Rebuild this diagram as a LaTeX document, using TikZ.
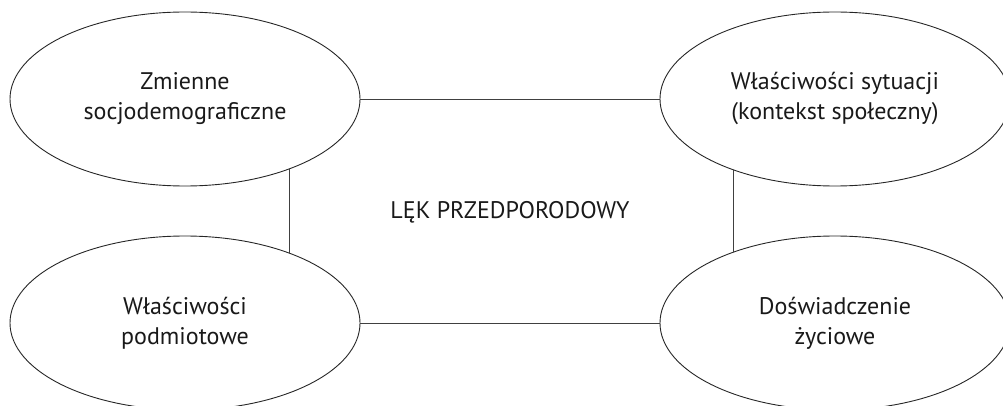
\documentclass[tikz,border=0pt]{standalone}
\usepackage{fontspec}
\setmainfont{PT Sans}
\usetikzlibrary{shapes.geometric}
\tikzset{
  oval/.style={ellipse, draw=black!85, line width=0.9pt, minimum width=350pt, minimum height=174pt, inner sep=0pt, align=center, font=\fontsize{24}{30}\selectfont, text=black!90},
  link/.style={draw=black!75, line width=0.9pt}
}
\begin{document}
\begin{tikzpicture}[x=1pt,y=-1pt]
\useasboundingbox (0,0) rectangle (1003,406);
\clip (0,0) rectangle (1003,406);
\node[oval] (tl) at (185,99) {Zmienne\\socjodemograficzne};
\node[oval] (tr) at (835,99) {Właściwości sytuacji\\(kontekst społeczny)};
\node[oval] (bl) at (185,323) {Właściwości\\podmiotowe};
\node[oval] (br) at (835,323) {Doświadczenie\\życiowe};
\node[font=\fontsize{24}{28}\selectfont, text=black!90] (c) at (510,212) {LĘK PRZEDPORODOWY};
\draw[link] (tl.east) -- (tr.west);
\draw[link] (bl.east) -- (br.west);
\draw[link] (tl.-34.7) -- (bl.34.7);
\draw[link] (tr.-145.3) -- (br.145.3);
\end{tikzpicture}
\end{document}
